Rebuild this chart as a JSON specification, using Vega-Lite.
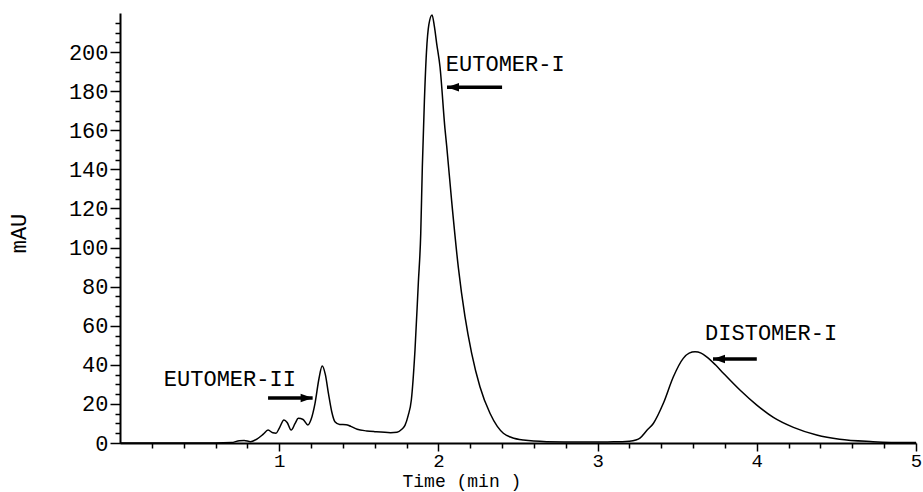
{
  "$schema": "https://vega.github.io/schema/vega-lite/v6.json",
  "width": 796,
  "height": 430,
  "autosize": {"type": "none"},
  "padding": {"left": 120, "top": 13, "right": 7, "bottom": 49},
  "background": "white",
  "config": {
    "view": {"stroke": null},
    "font": "Liberation Mono",
    "axis": {
      "grid": false,
      "domainColor": "black",
      "tickColor": "black",
      "labelColor": "black",
      "titleColor": "black",
      "labelFont": "Liberation Mono",
      "titleFont": "Liberation Mono",
      "labelFontSize": 22,
      "titleFontSize": 22,
      "titleFontWeight": "normal",
      "labelFlush": false,
      "labelOverlap": false
    }
  },
  "datasets": {
    "trace": [
      {"t": 0.0, "mau": 0}, {"t": 0.1, "mau": 0}, {"t": 0.6, "mau": 0}, {"t": 0.7, "mau": 0.2},
      {"t": 0.75, "mau": 1.2}, {"t": 0.78, "mau": 1.3}, {"t": 0.82, "mau": 0.7}, {"t": 0.86, "mau": 2.0},
      {"t": 0.9, "mau": 4.5}, {"t": 0.93, "mau": 6.6}, {"t": 0.96, "mau": 5.2}, {"t": 0.98, "mau": 5.0},
      {"t": 1.0, "mau": 7.5}, {"t": 1.03, "mau": 11.8}, {"t": 1.05, "mau": 10.5}, {"t": 1.075, "mau": 6.6},
      {"t": 1.1, "mau": 10}, {"t": 1.12, "mau": 12.6}, {"t": 1.15, "mau": 12}, {"t": 1.18, "mau": 9.2},
      {"t": 1.2, "mau": 12}, {"t": 1.225, "mau": 20.3}, {"t": 1.25, "mau": 33}, {"t": 1.27, "mau": 39.4},
      {"t": 1.29, "mau": 35}, {"t": 1.31, "mau": 25}, {"t": 1.33, "mau": 16}, {"t": 1.35, "mau": 10.9},
      {"t": 1.38, "mau": 9.5}, {"t": 1.42, "mau": 9.4}, {"t": 1.45, "mau": 8.5}, {"t": 1.49, "mau": 7},
      {"t": 1.55, "mau": 6.2}, {"t": 1.6, "mau": 5.8}, {"t": 1.7, "mau": 5.3}, {"t": 1.74, "mau": 5.5},
      {"t": 1.77, "mau": 7}, {"t": 1.79, "mau": 9}, {"t": 1.81, "mau": 14}, {"t": 1.83, "mau": 22},
      {"t": 1.853, "mau": 47.6}, {"t": 1.874, "mau": 82}, {"t": 1.889, "mau": 107}, {"t": 1.899, "mau": 141},
      {"t": 1.912, "mau": 175}, {"t": 1.925, "mau": 200}, {"t": 1.94, "mau": 214}, {"t": 1.96, "mau": 219},
      {"t": 1.975, "mau": 213}, {"t": 1.989, "mau": 204.5}, {"t": 2.01, "mau": 192.5}, {"t": 2.041, "mau": 161},
      {"t": 2.052, "mau": 152}, {"t": 2.083, "mau": 124}, {"t": 2.125, "mau": 90}, {"t": 2.167, "mau": 64.6},
      {"t": 2.209, "mau": 45.9}, {"t": 2.261, "mau": 28.8}, {"t": 2.324, "mau": 15.2}, {"t": 2.37, "mau": 8.5},
      {"t": 2.408, "mau": 5}, {"t": 2.46, "mau": 2.8}, {"t": 2.533, "mau": 1.5}, {"t": 2.68, "mau": 0.7},
      {"t": 2.9, "mau": 0.5}, {"t": 3.1, "mau": 0.6}, {"t": 3.2, "mau": 0.9}, {"t": 3.24, "mau": 1.5},
      {"t": 3.266, "mau": 2.5}, {"t": 3.31, "mau": 6.5}, {"t": 3.35, "mau": 10}, {"t": 3.413, "mau": 20.3},
      {"t": 3.476, "mau": 33.9}, {"t": 3.538, "mau": 43.3}, {"t": 3.575, "mau": 46}, {"t": 3.612, "mau": 46.7},
      {"t": 3.65, "mau": 46}, {"t": 3.685, "mau": 44.1}, {"t": 3.74, "mau": 40}, {"t": 3.79, "mau": 35.7},
      {"t": 3.894, "mau": 27.1}, {"t": 4.0, "mau": 19.4}, {"t": 4.104, "mau": 13.1}, {"t": 4.23, "mau": 8},
      {"t": 4.376, "mau": 4.1}, {"t": 4.52, "mau": 1.9}, {"t": 4.73, "mau": 0.7}, {"t": 4.94, "mau": 0.2},
      {"t": 5.0, "mau": 0.2}
    ],
    "labels": [
      {"t": 2.42, "mau": 194, "label": "EUTOMER-I"},
      {"t": 0.69, "mau": 32.7, "label": "EUTOMER-II"},
      {"t": 4.09, "mau": 56.5, "label": "DISTOMER-I"}
    ],
    "arrows": [
      {"tip": 2.054, "tail": 2.4, "mau": 182, "dir": "left"},
      {"tip": 1.21, "tail": 0.93, "mau": 23, "dir": "right"},
      {"tip": 3.725, "tail": 4.0, "mau": 43, "dir": "left"}
    ]
  },
  "layer": [
    {
      "data": {"name": "trace"},
      "mark": {"type": "line", "color": "black", "strokeWidth": 1.5, "interpolate": "monotone"},
      "encoding": {
        "x": {
          "field": "t", "type": "quantitative",
          "scale": {"domain": [0, 5], "nice": false, "zero": false},
          "axis": {
            "orient": "bottom", "values": [1, 2, 3, 4, 5], "format": "d",
            "tickSize": 8, "tickWidth": 1.5, "domainWidth": 2, "labelPadding": 0, "labelFontSize": 19,
            "title": "Time (min )", "titleX": 282, "titleY": 43.6, "titleFontSize": 18,
            "titleAlign": "left", "titleBaseline": "alphabetic"
          }
        },
        "y": {
          "field": "mau", "type": "quantitative",
          "scale": {"domain": [0, 220], "nice": false},
          "axis": {
            "orient": "left", "values": [0, 20, 40, 60, 80, 100, 120, 140, 160, 180, 200],
            "tickSize": 10, "tickWidth": 1.5, "domainWidth": 2, "labelPadding": 2,
            "title": "mAU", "titleX": -102, "titleY": 220, "titleAngle": 270,
            "titleAlign": "center", "titleBaseline": "middle"
          }
        }
      }
    },
    {
      "data": {"name": "trace"},
      "mark": {"type": "line", "strokeOpacity": 0},
      "encoding": {
        "x": {
          "field": "t", "type": "quantitative",
          "scale": {"domain": [0, 5], "nice": false, "zero": false},
          "axis": {
            "orient": "bottom",
            "values": [0.2, 0.4, 0.6, 0.8, 1.2, 1.4, 1.6, 1.8, 2.2, 2.4, 2.6, 2.8, 3.2, 3.4, 3.6, 3.8, 4.2, 4.4, 4.6, 4.8],
            "labels": false, "domain": false, "tickSize": 5, "tickWidth": 1.5, "title": null
          }
        },
        "y": {
          "field": "mau", "type": "quantitative",
          "scale": {"domain": [0, 220], "nice": false},
          "axis": {
            "orient": "left",
            "values": [5, 10, 15, 25, 30, 35, 45, 50, 55, 65, 70, 75, 85, 90, 95, 105, 110, 115, 125, 130, 135, 145, 150, 155, 165, 170, 175, 185, 190, 195, 205, 210, 215],
            "labels": false, "domain": false, "tickSize": 5, "tickWidth": 1.5, "title": null
          }
        }
      }
    },
    {
      "data": {"name": "labels"},
      "mark": {"type": "text", "align": "center", "baseline": "middle", "font": "Liberation Mono", "fontSize": 22, "color": "black"},
      "encoding": {
        "x": {"field": "t", "type": "quantitative", "scale": {"domain": [0, 5], "nice": false, "zero": false}, "axis": null},
        "y": {"field": "mau", "type": "quantitative", "scale": {"domain": [0, 220], "nice": false}, "axis": null},
        "text": {"field": "label"}
      }
    },
    {
      "data": {"name": "arrows"},
      "mark": {"type": "rule", "color": "black", "strokeWidth": 3.5},
      "encoding": {
        "x": {"field": "tip", "type": "quantitative", "scale": {"domain": [0, 5], "nice": false, "zero": false}, "axis": null},
        "x2": {"field": "tail"},
        "y": {"field": "mau", "type": "quantitative", "scale": {"domain": [0, 220], "nice": false}, "axis": null}
      }
    },
    {
      "data": {"name": "arrows"},
      "transform": [{"filter": "datum.dir === 'left'"}],
      "mark": {"type": "point", "shape": "M-1,0L1,-0.7L1,0.7Z", "filled": true, "color": "black", "opacity": 1, "size": 144, "xOffset": 6},
      "encoding": {
        "x": {"field": "tip", "type": "quantitative", "scale": {"domain": [0, 5], "nice": false, "zero": false}, "axis": null},
        "y": {"field": "mau", "type": "quantitative", "scale": {"domain": [0, 220], "nice": false}, "axis": null}
      }
    },
    {
      "data": {"name": "arrows"},
      "transform": [{"filter": "datum.dir === 'right'"}],
      "mark": {"type": "point", "shape": "M1,0L-1,-0.7L-1,0.7Z", "filled": true, "color": "black", "opacity": 1, "size": 144, "xOffset": -6},
      "encoding": {
        "x": {"field": "tip", "type": "quantitative", "scale": {"domain": [0, 5], "nice": false, "zero": false}, "axis": null},
        "y": {"field": "mau", "type": "quantitative", "scale": {"domain": [0, 220], "nice": false}, "axis": null}
      }
    }
  ],
  "resolve": {"axis": {"x": "independent", "y": "independent"}}
}
